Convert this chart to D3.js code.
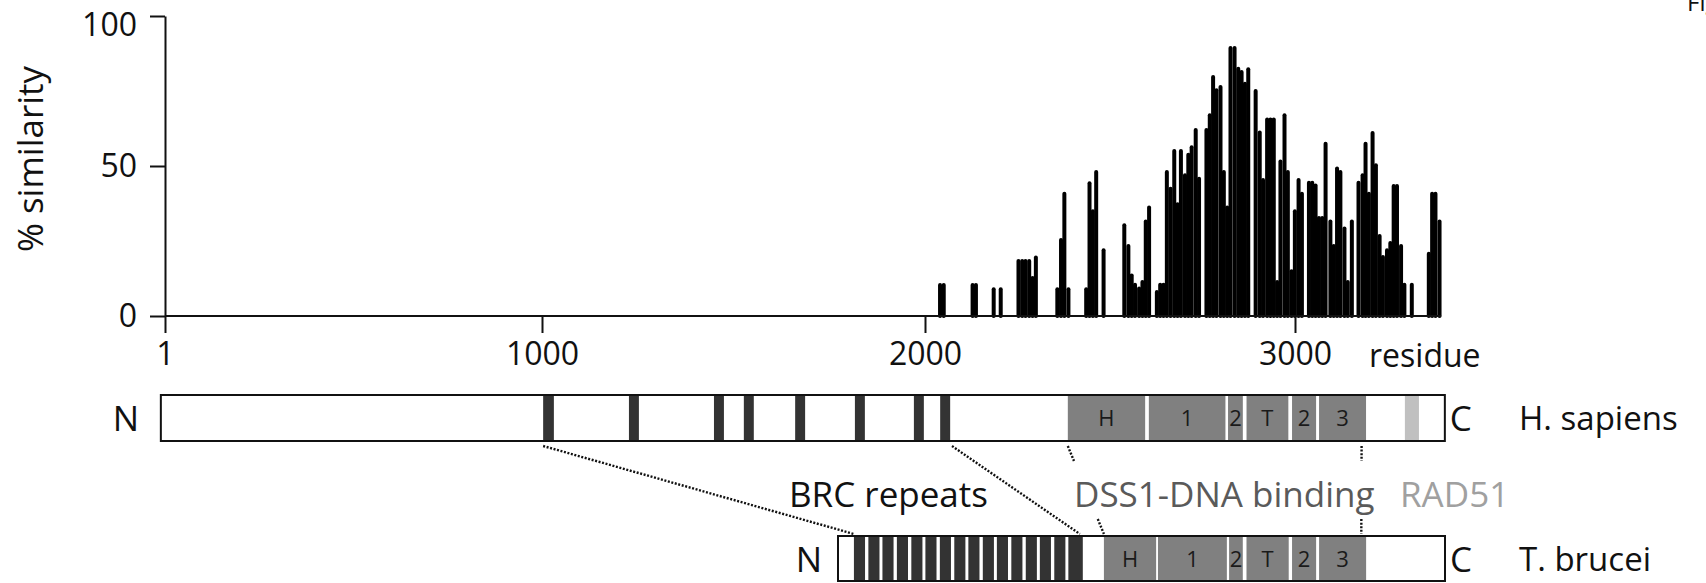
<!DOCTYPE html>
<html><head><meta charset="utf-8">
<script src="https://cdn.jsdelivr.net/npm/d3@7"></script>
<style>
html,body{margin:0;padding:0;background:#fff;}
svg{display:block;font-family:"Open Sans",sans-serif;}
</style></head><body>
<svg id="chart" width="1706" height="583"></svg>
<script>
// ---- data ----
const residues = [2036,2046,2124,2133,2181,2200,2248,2258,2267,2277,2286,2295,2353,2363,2372,2383,
  2431,2440,2449,2458,2478,2534,2545,2554,2563,2574,2583,2592,2601,2622,2631,2640,2649,2659,2669,2678,
  2687,2698,2707,2716,2727,2736,2756,2765,2774,2783,2794,2803,2812,2821,2832,2842,2851,2860,2869,2889,
  2900,2909,2920,2929,2938,2947,2956,2967,2976,2986,2995,3005,3014,3033,3042,3051,3060,3069,3078,3091,
  3100,3109,3118,3129,3138,3149,3167,3178,3186,3195,3205,3214,3224,3233,3244,3253,3262,3271,3282,3291,
  3311,3357,3366,3375,3386];
const similarity = [11,11,11,11,9.6,9.6,19,19,19,19,13.3,20.2,9.6,26,41.4,9.6,
  9.6,44.9,35.6,48.7,22.6,30.9,24,14.2,11.1,9.8,12,32.2,36.8,8.7,11.1,11.1,48.7,43.1,55.7,37.9,
  55.7,47.6,54.4,56.9,62.7,46.4,62.7,67.6,80.3,75.9,77,48.7,36.8,90,90,83.1,82,78.1,82.9,75.7,
  61.8,46,66.2,66.2,66.2,12,52.2,67.6,48.7,15.6,35.6,46,41.4,45.1,45.1,44.2,33.3,33.3,58.1,32.2,
  24,49.8,48.7,29.8,12,32.2,45.1,47.6,58.1,41.4,61.7,50.9,27.3,20.3,22.6,25,44,44,24,11.1,
  11.1,21.4,41.4,41.4,32.2];
const binSize = 9.3;
const xTicks = [1,1000,2000,3000];
const yTicks = [0,50,100];
const xLast = 3395;

const humanSpan = [-10,3405];
const humanBRC = [[1003,1031],[1227,1253],[1449,1475],[1527,1553],[1661,1687],[1817,1843],[1971,1997],[2041,2068]];
const domainLabels = ["H","1","2","T","2","3"];
const humanDSS1 = [[2386,2595],[2605,2812],[2819,2859],[2869,2982],[2992,3057],[3065,3192]];
const humanRAD51 = [3297,3335];

const tbLength = 1640;
const tbBRC = [[44,74],[83,113],[121,151],[160,190],[199,229],[237,267],[276,306],[315,345],[353,383],
  [392,422],[430,460],[469,499],[508,538],[546,576],[585,615],[623,662]];
const tbDSS1 = [[719,860],[865,1051],[1057,1094],[1104,1218],[1227,1292],[1300,1427]];

// links between the two proteins: human residue -> T. brucei residue
const links = [
  {h:1003, t:44, full:true},
  {h:2073, t:654, full:true},
  {h:2386, t:719, full:false},
  {h:3180, t:1414, full:false}
];

// ---- layout ----
const svg = d3.select("#chart");
const x = d3.scaleLinear().domain([1,1000,2000,3000]).range([165,542,925,1295]);
const y = d3.scaleLinear().domain([0,100]).range([316,16]);
const tb = d3.scaleLinear().domain([1,tbLength]).range([838,1445]);
const ink = "#111";

// bars
const bw = 4;
svg.append("g").selectAll("line").data(residues).join("line")
  .attr("x1",(r)=>x(r+binSize/2)).attr("x2",(r)=>x(r+binSize/2))
  .attr("y1",y(0)).attr("y2",(r,i)=>y(similarity[i])+bw/2)
  .attr("stroke","#000").attr("stroke-width",bw).attr("stroke-linecap","round");

// axes
const yAxis = svg.append("g").attr("transform",`translate(${x(1)},0)`)
  .call(d3.axisLeft(y).tickValues(yTicks).tickSize(15).tickPadding(13).tickSizeOuter(0));
const xAxis = svg.append("g").attr("transform",`translate(0,${y(0)})`)
  .call(d3.axisBottom(x).tickValues(xTicks).tickFormat(d3.format("d")).tickSize(17).tickPadding(9).tickSizeOuter(0));
xAxis.select(".domain").remove();
xAxis.append("line").attr("x1",x(1)).attr("x2",x(xLast)).attr("stroke",ink).attr("stroke-width",2);
[yAxis,xAxis].forEach(g=>{
  g.selectAll("path,line").attr("stroke",ink).attr("stroke-width",2);
  g.selectAll("text").attr("fill",ink).style("font-size","32px").style("font-family","'Open Sans',sans-serif");
});
yAxis.selectAll(".tick text").filter(d=>d===100).attr("dy","0.6em");

svg.append("text").attr("x",1369).attr("y",367).attr("fill",ink).style("font-size","32px").text("residue");
svg.append("text").attr("transform","translate(43,159) rotate(-90)").attr("text-anchor","middle")
  .attr("fill",ink).style("font-size","35px").text("% similarity");

// protein diagrams
function protein(scale, span, top, h, brc, dss, rad){
  const g = svg.append("g");
  g.append("rect").attr("x",scale(span[0])).attr("y",top).attr("width",scale(span[1])-scale(span[0])).attr("height",h)
    .attr("fill","#fff");
  g.selectAll("rect.brc").data(brc).join("rect").attr("class","brc")
    .attr("x",d=>scale(d[0])).attr("width",d=>scale(d[1])-scale(d[0])).attr("y",top).attr("height",h).attr("fill","#333");
  g.selectAll("rect.dss").data(dss).join("rect").attr("class","dss")
    .attr("x",d=>scale(d[0])).attr("width",d=>scale(d[1])-scale(d[0])).attr("y",top).attr("height",h).attr("fill","#808080");
  g.selectAll("text.dl").data(dss).join("text").attr("class","dl")
    .attr("x",d=>(scale(d[0])+scale(d[1]))/2).attr("y",top+h/2+8).attr("text-anchor","middle")
    .attr("fill","#1a1a1a").style("font-size","22px").text((d,i)=>domainLabels[i]);
  if(rad){
    g.append("rect").attr("x",scale(rad[0])).attr("width",scale(rad[1])-scale(rad[0])).attr("y",top).attr("height",h).attr("fill","#c0c0c0");
  }
  g.append("rect").attr("x",scale(span[0])).attr("y",top).attr("width",scale(span[1])-scale(span[0])).attr("height",h)
    .attr("fill","none").attr("stroke",ink).attr("stroke-width",2);
}
const hTop = 395, hH = 46, tTop = 536, tH = 45;
protein(x, humanSpan, hTop, hH, humanBRC, humanDSS1, humanRAD51);
protein(tb, [1,tbLength], tTop, tH, tbBRC, tbDSS1, null);

// side labels
const lab = (tx,ty,t,anchor,fs)=>svg.append("text").attr("x",tx).attr("y",ty).attr("text-anchor",anchor||"start")
  .attr("fill",ink).style("font-size",(fs||33)+"px").text(t);
lab(x(humanSpan[0])-35, hTop+hH/2+13, "N","middle",35);
lab(x(humanSpan[1])+5, hTop+hH/2+13, "C","start",35);
lab(1519, hTop+hH/2+12, "H. sapiens");
lab(tb(1)-29, tTop+tH/2+13, "N","middle",35);
lab(tb(tbLength)+5, tTop+tH/2+13, "C","start",35);
lab(1519, tTop+tH/2+12, "T. brucei");

// links
const y1 = hTop+hH+5, y2 = tTop-2;
links.forEach(l=>{
  const xa = x(l.h), xb = tb(l.t);
  const segs = l.full ? [[0,1]] : [[0,0.17],[0.83,1]];
  segs.forEach(s=>{
    svg.append("line")
      .attr("x1",xa+(xb-xa)*s[0]).attr("y1",y1+(y2-y1)*s[0])
      .attr("x2",xa+(xb-xa)*s[1]).attr("y2",y1+(y2-y1)*s[1])
      .attr("stroke",ink).attr("stroke-width",2.4).attr("stroke-dasharray","2,1.6");
  });
});

// region labels
svg.append("text").attr("x",789).attr("y",507).attr("fill",ink).style("font-size","35px").text("BRC repeats");
svg.append("text").attr("x",1074).attr("y",507).attr("fill","#5a5a5a").style("font-size","35px").text("DSS1-DNA binding");
svg.append("text").attr("x",1400).attr("y",507).attr("fill","#a0a0a0").style("font-size","35px").text("RAD51");

// cropped figure label at top right (cut off in the reference as well)
svg.append("text").attr("x",1687).attr("y",11).attr("fill",ink).style("font-size","24px").text("Fig");
</script>
</body></html>
